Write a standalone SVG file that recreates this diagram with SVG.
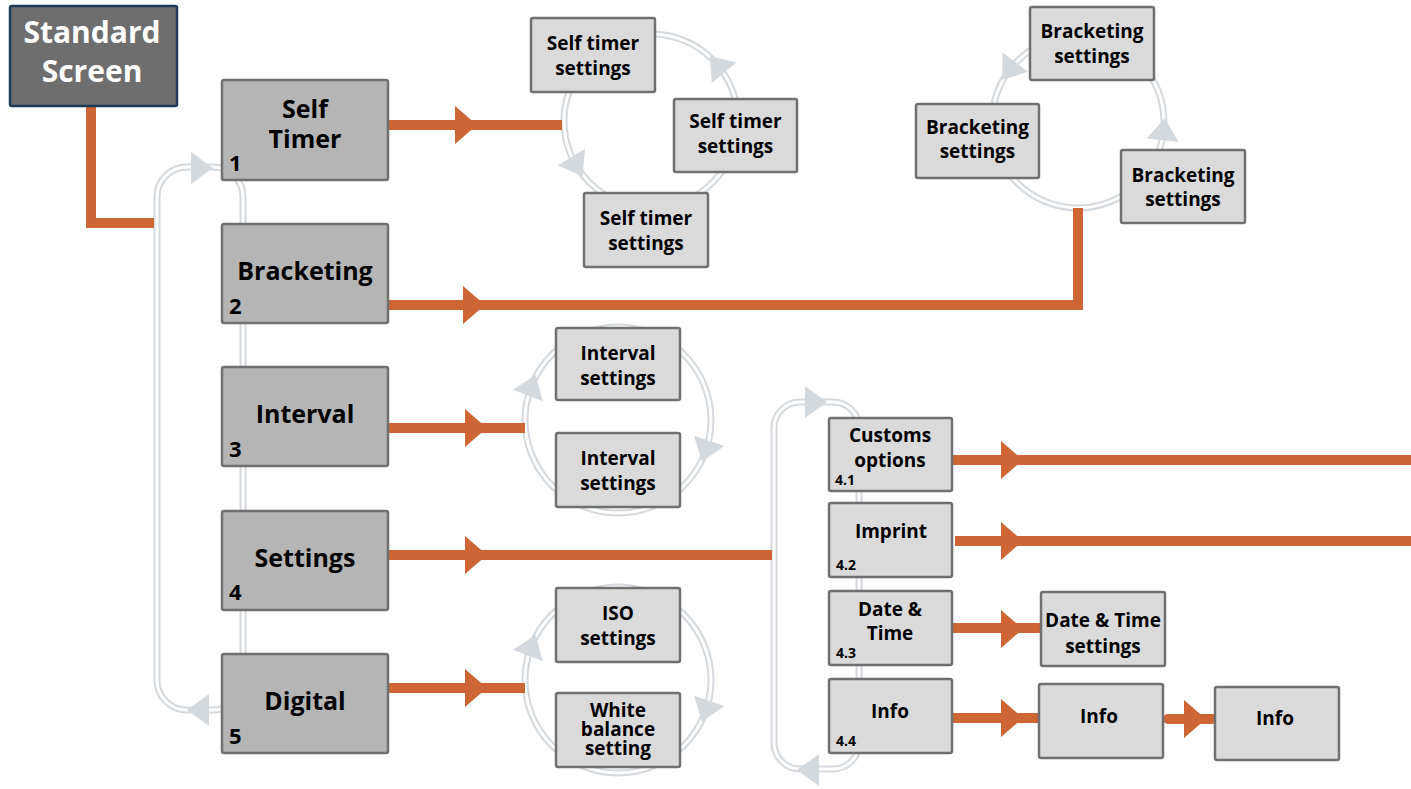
<svg xmlns="http://www.w3.org/2000/svg" width="1411" height="789" viewBox="0 0 1411 789">
<style>
text{font-family:"Open Sans","Liberation Sans",sans-serif;font-weight:700;fill:#000;text-anchor:middle}
.main rect{fill:#b5b5b5;stroke:#707070;stroke-width:2.5}
.sub rect{fill:#dadada;stroke:#707070;stroke-width:2.5}
.t1{font-size:25px}
.num{font-size:22px;text-anchor:start}
.t2{font-size:19px}
.n2{font-size:14px;text-anchor:start}
.ring{fill:none;stroke:#d4d9de;stroke-width:7}
.ringw{fill:none;stroke:#fff;stroke-width:3}
.ol{fill:none;stroke:#cd6634;stroke-width:10;stroke-linejoin:miter}
</style>
<defs>
<path id="ga" d="M12,0 L-10,-16 L-10,16 Z" fill="#d4d9de"/>
<path id="oa" d="M11,0 L-11,-19 L-11,19 Z" fill="#cd6634"/>
</defs>
<rect width="1411" height="789" fill="#fff"/>
<g id="connectors">
<rect class="ring" x="157" y="167" width="86" height="543" rx="30"/>
<rect class="ringw" x="157" y="167" width="86" height="543" rx="30"/>
<rect class="ring" x="774" y="402" width="85" height="367" rx="26"/>
<rect class="ringw" x="774" y="402" width="85" height="367" rx="26"/>
<circle class="ring" cx="651" cy="121" r="87"/>
<circle class="ringw" cx="651" cy="121" r="87"/>
<circle class="ring" cx="1078" cy="122" r="86"/>
<circle class="ringw" cx="1078" cy="122" r="86"/>
<circle class="ring" cx="618" cy="420" r="93"/>
<circle class="ringw" cx="618" cy="420" r="93"/>
<circle class="ring" cx="618" cy="680" r="93"/>
<circle class="ringw" cx="618" cy="680" r="93"/>
<use href="#ga" transform="translate(201,168)"/>
<use href="#ga" transform="translate(199,710) rotate(180)"/>
<use href="#ga" transform="translate(815,402)"/>
<use href="#ga" transform="translate(809,770) rotate(180)"/>
<use href="#ga" transform="translate(717.6,65.1) rotate(-130)"/>
<use href="#ga" transform="translate(576.4,165.8) rotate(59)"/>
<use href="#ga" transform="translate(1009.3,70.2) rotate(127)"/>
<use href="#ga" transform="translate(1163.6,130.2) rotate(-84.5)"/>
<use href="#ga" transform="translate(531.4,386.1) rotate(-69)"/>
<use href="#ga" transform="translate(705.9,450.3) rotate(109)"/>
<use href="#ga" transform="translate(531.4,646.1) rotate(-69)"/>
<use href="#ga" transform="translate(705.9,710.3) rotate(109)"/>
<path class="ol" d="M91,106 V223 H154"/>
<path class="ol" d="M388,125 H562"/>
<path class="ol" d="M388,305 H1078 V208"/>
<path class="ol" d="M388,428 H525"/>
<path class="ol" d="M388,555 H772"/>
<path class="ol" d="M388,688 H525"/>
<path class="ol" d="M952,460 H1411"/>
<path class="ol" d="M955,541 H1411"/>
<path class="ol" d="M952,628 H1041"/>
<path class="ol" d="M952,718 H1039"/>
<path class="ol" d="M1168,719 H1212" stroke-linecap="round"/>
<use href="#oa" transform="translate(466,125)"/>
<use href="#oa" transform="translate(474,305)"/>
<use href="#oa" transform="translate(476,428)"/>
<use href="#oa" transform="translate(476,555)"/>
<use href="#oa" transform="translate(476,688)"/>
<use href="#oa" transform="translate(1012,460)"/>
<use href="#oa" transform="translate(1012,541)"/>
<use href="#oa" transform="translate(1012,629)"/>
<use href="#oa" transform="translate(1012,718)"/>
<use href="#oa" transform="translate(1195,719)"/>
</g>
<g id="standard-screen">
<rect x="10" y="6" width="167" height="100" rx="2" fill="#6e6e6e" stroke="#1e3a56" stroke-width="2.5"/>
<text x="92" y="43" font-size="30" style="fill:#fff">Standard</text>
<text x="92" y="82" font-size="30" style="fill:#fff">Screen</text>
</g>
<g id="self-timer" class="main">
<rect x="222" y="80" width="166" height="100" rx="2"/>
<text class="t1" x="305" y="118">Self</text>
<text class="t1" x="305" y="148">Timer</text>
<text class="num" x="229" y="171">1</text>
</g>
<g id="bracketing" class="main">
<rect x="222" y="224" width="166" height="99" rx="2"/>
<text class="t1" x="305" y="280">Bracketing</text>
<text class="num" x="229" y="314">2</text>
</g>
<g id="interval" class="main">
<rect x="222" y="367" width="166" height="99" rx="2"/>
<text class="t1" x="305" y="423">Interval</text>
<text class="num" x="229" y="457">3</text>
</g>
<g id="settings" class="main">
<rect x="222" y="511" width="166" height="99" rx="2"/>
<text class="t1" x="305" y="567">Settings</text>
<text class="num" x="229" y="600">4</text>
</g>
<g id="digital" class="main">
<rect x="222" y="654" width="166" height="99" rx="2"/>
<text class="t1" x="305" y="710">Digital</text>
<text class="num" x="229" y="744">5</text>
</g>
<g id="self-timer-settings-a" class="sub">
<rect x="531" y="18" width="124" height="74" rx="2"/>
<text class="t2" x="593" y="50">Self timer</text>
<text class="t2" x="593" y="75">settings</text>
</g>
<g id="self-timer-settings-b" class="sub">
<rect x="674" y="99" width="123" height="73" rx="2"/>
<text class="t2" x="735.5" y="128">Self timer</text>
<text class="t2" x="735.5" y="153">settings</text>
</g>
<g id="self-timer-settings-c" class="sub">
<rect x="584" y="193" width="124" height="74" rx="2"/>
<text class="t2" x="646" y="225">Self timer</text>
<text class="t2" x="646" y="250">settings</text>
</g>
<g id="bracketing-settings-a" class="sub">
<rect x="1030" y="7" width="124" height="73" rx="2"/>
<text class="t2" x="1092" y="38">Bracketing</text>
<text class="t2" x="1092" y="63">settings</text>
</g>
<g id="bracketing-settings-b" class="sub">
<rect x="916" y="104" width="123" height="74" rx="2"/>
<text class="t2" x="977.5" y="134">Bracketing</text>
<text class="t2" x="977.5" y="158">settings</text>
</g>
<g id="bracketing-settings-c" class="sub">
<rect x="1121" y="150" width="124" height="73" rx="2"/>
<text class="t2" x="1183" y="182">Bracketing</text>
<text class="t2" x="1183" y="206">settings</text>
</g>
<g id="interval-settings-a" class="sub">
<rect x="556" y="328" width="124" height="72" rx="2"/>
<text class="t2" x="618" y="360">Interval</text>
<text class="t2" x="618" y="385">settings</text>
</g>
<g id="interval-settings-b" class="sub">
<rect x="556" y="433" width="124" height="74" rx="2"/>
<text class="t2" x="618" y="465">Interval</text>
<text class="t2" x="618" y="490">settings</text>
</g>
<g id="iso-settings" class="sub">
<rect x="556" y="588" width="124" height="74" rx="2"/>
<text class="t2" x="618" y="620">ISO</text>
<text class="t2" x="618" y="645">settings</text>
</g>
<g id="white-balance" class="sub">
<rect x="556" y="693" width="124" height="74" rx="2"/>
<text class="t2" x="618" y="717" font-size="18">White</text>
<text class="t2" x="618" y="736" font-size="18">balance</text>
<text class="t2" x="618" y="755" font-size="18">setting</text>
</g>
<g id="customs-options" class="sub">
<rect x="829" y="418" width="123" height="73" rx="2"/>
<text class="t2" x="890" y="442">Customs</text>
<text class="t2" x="890" y="467">options</text>
<text class="n2" x="835" y="485">4.1</text>
</g>
<g id="imprint" class="sub">
<rect x="829" y="503" width="123" height="74" rx="2"/>
<text class="t2" x="891" y="538">Imprint</text>
<text class="n2" x="836" y="570">4.2</text>
</g>
<g id="date-time" class="sub">
<rect x="829" y="591" width="123" height="74" rx="2"/>
<text class="t2" x="890" y="616">Date &amp;</text>
<text class="t2" x="890" y="640">Time</text>
<text class="n2" x="836" y="658">4.3</text>
</g>
<g id="info" class="sub">
<rect x="829" y="679" width="123" height="74" rx="2"/>
<text class="t2" x="890" y="718">Info</text>
<text class="n2" x="836" y="746">4.4</text>
</g>
<g id="date-time-settings" class="sub">
<rect x="1041" y="592" width="124" height="74" rx="2"/>
<text class="t2" x="1103" y="627">Date &amp; Time</text>
<text class="t2" x="1103" y="653">settings</text>
</g>
<g id="info-2" class="sub">
<rect x="1039" y="684" width="124" height="74" rx="2"/>
<text class="t2" x="1099" y="723">Info</text>
</g>
<g id="info-3" class="sub">
<rect x="1215" y="687" width="124" height="73" rx="2"/>
<text class="t2" x="1275" y="725">Info</text>
</g>
</svg>
